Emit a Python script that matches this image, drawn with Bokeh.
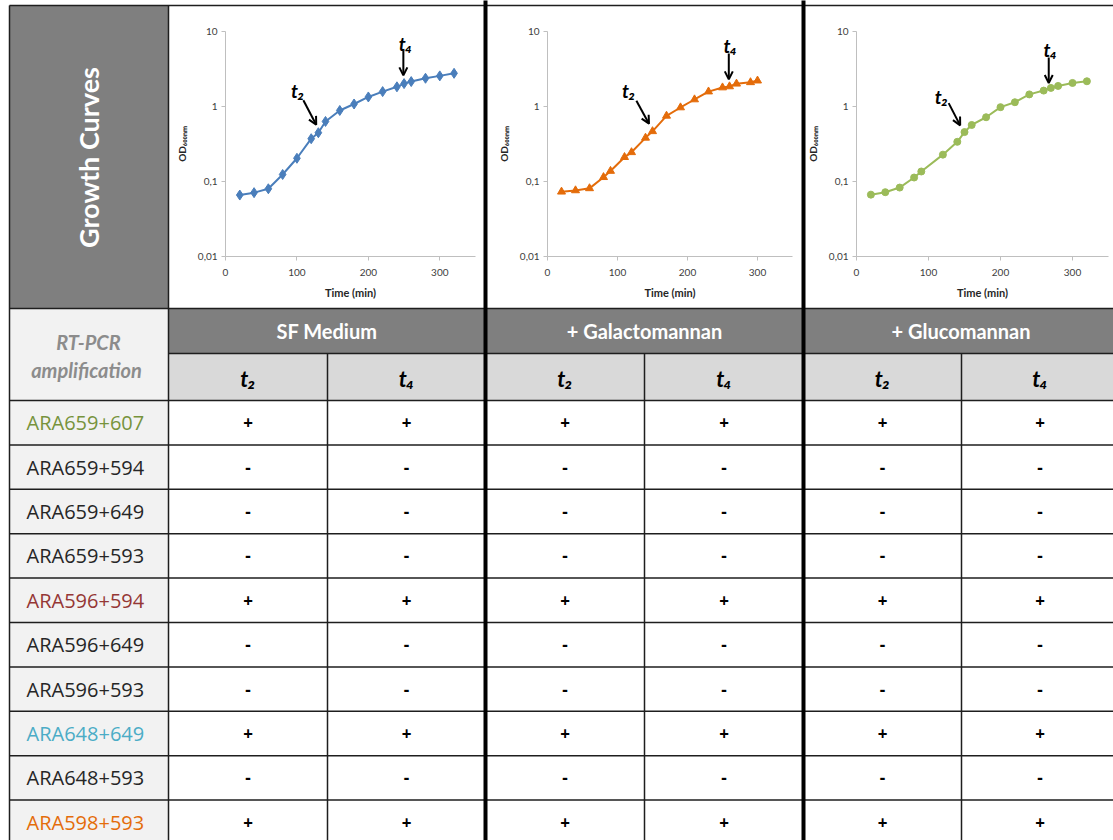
import math
from bokeh.plotting import figure
from bokeh.layouts import row
from bokeh.models import (Range1d, FixedTicker, CustomJSTickFormatter, Arrow,
                          OpenHead, Label, LinearScale)
from bokeh.core.properties import value
from bokeh.embed import file_html
from bokeh.resources import INLINE

# ---------------- data ----------------
time_sf = [20, 40, 60, 80, 100, 120, 130, 140, 160, 180, 200, 220, 240, 250, 260, 280, 300, 320]
od_sf = [0.066, 0.071, 0.080, 0.124, 0.204, 0.372, 0.447, 0.632, 0.885, 1.08, 1.34, 1.58,
         1.83, 2.02, 2.15, 2.38, 2.56, 2.77]

time_gal = [20, 40, 60, 80, 90, 110, 120, 140, 150, 170, 190, 210, 230, 250, 260, 270, 290, 300]
od_gal = [0.073, 0.076, 0.081, 0.114, 0.138, 0.211, 0.245, 0.382, 0.467, 0.751, 0.97, 1.24,
          1.58, 1.79, 1.85, 2.01, 2.10, 2.21]

time_glc = [20, 40, 60, 80, 90, 120, 140, 150, 160, 180, 200, 220, 240, 260, 270, 280, 300, 320]
od_glc = [0.0668, 0.072, 0.083, 0.113, 0.136, 0.228, 0.338, 0.456, 0.567, 0.719, 0.98, 1.14,
          1.45, 1.63, 1.77, 1.88, 2.06, 2.17]

x_ticks = [0, 100, 200, 300]
y_ticks = [0.01, 0.1, 1, 10]

conditions = ["SF Medium", "+ Galactomannan", "+ Glucomannan"]
time_points = ["t₂", "t₄"]
primer_pairs = ["ARA659+607", "ARA659+594", "ARA659+649", "ARA659+593", "ARA596+594",
                "ARA596+649", "ARA596+593", "ARA648+649", "ARA648+593", "ARA598+593"]
pair_colors = ["#77933c", "#262626", "#262626", "#262626", "#953735",
               "#262626", "#262626", "#4bacc6", "#262626", "#e46c0a"]
sf_t2 = ["+", "-", "-", "-", "+", "-", "-", "+", "-", "+"]
sf_t4 = ["+", "-", "-", "-", "+", "-", "-", "+", "-", "+"]
gal_t2 = ["+", "-", "-", "-", "+", "-", "-", "+", "-", "+"]
gal_t4 = ["+", "-", "-", "-", "+", "-", "-", "+", "-", "+"]
glc_t2 = ["+", "-", "-", "-", "+", "-", "-", "+", "-", "+"]
glc_t4 = ["+", "-", "-", "-", "+", "-", "-", "+", "-", "+"]
results = [[sf_t2, sf_t4], [gal_t2, gal_t4], [glc_t2, glc_t4]]

# ---------------- layout geometry (page pixels) ----------------
W, H = 1113, 840
col_x = [9, 168, 327, 485, 644, 803, 961, 1118]
top_line = 5
hdr_top, hdr_mid, hdr_bot = 308, 353, 400
row_h = 44.4
n_rows = len(primer_pairs)
row_edges = [hdr_bot + k * row_h for k in range(n_rows + 1)]
row_centers = [hdr_bot + (k + 0.5) * row_h for k in range(n_rows)]
FRAME_T, FRAME_B = 31, 256
LINE = "#1e1e1e"
DARK = "#7f7f7f"
PG = dict(x_range_name="page", y_range_name="page", level="overlay")


def draw_bg(p):
    L, A = col_x[0], col_x[1]
    R = W + 5
    bottom = H + 10
    p.quad(left=[L, L, L, A, A], right=[A, A, A, R, R],
           top=[top_line, hdr_top, hdr_bot, hdr_top, hdr_mid],
           bottom=[hdr_top, hdr_bot, bottom, hdr_mid, hdr_bot],
           fill_color=[DARK, "#f2f2f2", "#f2f2f2", DARK, "#d9d9d9"], line_color=None, **PG)
    hx0, hx1, hy = [], [], []
    for y in [top_line, hdr_top] + row_edges:
        hx0.append(L); hx1.append(R); hy.append(y)
    hx0.append(A); hx1.append(R); hy.append(hdr_mid)
    p.segment(x0=hx0, x1=hx1, y0=hy, y1=hy, line_color=LINE, line_width=1.5, **PG)
    vx = [L, A, col_x[2], col_x[4], col_x[6]]
    vy0 = [top_line, top_line, hdr_mid, hdr_mid, hdr_mid]
    p.segment(x0=vx, x1=vx, y0=vy0, y1=[bottom] * len(vx), line_color=LINE,
              line_width=1.5, **PG)
    tx = [col_x[3], col_x[5]]
    p.segment(x0=tx, x1=tx, y0=[0, 0], y1=[bottom, bottom], line_color="black",
              line_width=4, **PG)


def draw_table_texts(p, ci):
    a, b = col_x[1 + 2 * ci], col_x[3 + 2 * ci]
    m = col_x[2 + 2 * ci]
    p.text(x=[(a + b) / 2], y=[(hdr_top + hdr_mid) / 2], text=[conditions[ci]],
           text_color="white", text_font=value("Lato"), text_font_style="bold",
           text_font_size="20px", text_align="center", text_baseline="middle", **PG)
    sx = [(a + m) / 2, (m + b) / 2]
    p.text(x=sx, y=[(hdr_mid + hdr_bot) / 2 + 1] * 2, text=time_points,
           text_color="black", text_font=value("Lato"), text_font_style="bold italic",
           text_font_size="22px", text_align="center", text_baseline="middle", **PG)
    vx, vy, vt = [], [], []
    for j, res in enumerate(results[ci]):
        for k, r in enumerate(res):
            vx.append(sx[j]); vy.append(row_centers[k]); vt.append(r)
    p.text(x=vx, y=vy, text=vt, text_color="black", text_font=value("Open Sans"),
           text_font_style="bold", text_font_size="17px",
           text_align="center", text_baseline="middle", **PG)


def chart(x0, x1, fl, fr, t, od, color, marker, msize, ann):
    p = figure(width=x1 - x0, height=H,
               x_range=Range1d(0, 350), y_range=Range1d(0.01, 10), y_axis_type="log",
               toolbar_location=None, output_backend="svg",
               min_border_left=fl - x0, min_border_right=x1 - fr,
               min_border_top=FRAME_T, min_border_bottom=H - FRAME_B,
               outline_line_color=None)
    p.extra_x_ranges = {"page": Range1d(fl, fr)}
    p.extra_y_ranges = {"page": Range1d(FRAME_B, FRAME_T)}
    p.extra_x_scales = {"page": LinearScale()}
    p.extra_y_scales = {"page": LinearScale()}
    p.background_fill_color = "white"
    p.border_fill_color = "white"
    p.xgrid.visible = False
    p.ygrid.visible = False
    p.xaxis.ticker = FixedTicker(ticks=x_ticks)
    p.yaxis.ticker = FixedTicker(ticks=y_ticks)
    p.yaxis.formatter = CustomJSTickFormatter(code="return String(tick).replace('.', ',');")
    for ax in p.axis:
        ax.axis_line_color = "#bfbfbf"
        ax.major_tick_line_color = "#bfbfbf"
        ax.major_tick_out = 4
        ax.major_tick_in = 0
        ax.minor_tick_line_color = None
        ax.major_label_text_font_size = "10px"
        ax.major_label_text_color = "#404040"
        ax.major_label_text_font = "Lato"
        ax.axis_label_text_font = "Lato"
        ax.axis_label_text_font_style = "bold"
        ax.axis_label_text_color = "#262626"
    p.xaxis.major_label_standoff = 8
    p.yaxis.major_label_standoff = 4
    p.xaxis.axis_label = "Time (min)"
    p.xaxis.axis_label_text_font_size = "11px"
    p.xaxis.axis_label_standoff = 7
    p.yaxis.axis_label = "OD₆₀₀ₙₘ"
    p.yaxis.axis_label_text_font_size = "10px"
    p.yaxis.axis_label_standoff = 7
    p.line(t, od, line_color=color, line_width=2)
    p.scatter(t, od, marker=marker, size=msize, fill_color=color, line_color=color)
    (t2x, t2y), (a2x0, a2y0, a2x1, a2y1), (t4x, t4y), (a4x0, a4y0, a4x1, a4y1) = ann
    for (lx, ly, txt) in [(t2x, t2y, "t₂"), (t4x, t4y, "t₄")]:
        p.add_layout(Label(x=lx, y=ly, text=txt, text_font="Lato",
                           text_font_style="bold italic", text_font_size="19px",
                           text_align="center", text_baseline="middle", text_color="black"))
    for (sx, sy, ex, ey) in [(a2x0, a2y0, a2x1, a2y1), (a4x0, a4y0, a4x1, a4y1)]:
        p.add_layout(Arrow(end=OpenHead(size=8, line_width=2, line_color="black"),
                           x_start=sx, y_start=sy, x_end=ex, y_end=ey,
                           line_width=2, line_color="black"))
    draw_bg(p)
    return p


ann_sf = [(101, 1.65), (109, 1.21, 127, 0.57), (252, 6.9), (249, 5.6, 249, 2.6)]
ann_gal = [(116, 1.63), (127, 1.19, 145, 0.59), (261, 6.6), (259, 5.1, 259, 2.3)]
ann_glc = [(118, 1.38), (128, 1.11, 144, 0.56), (269, 5.7), (267, 4.5, 267, 2.06)]

c1 = chart(0, 485, 225, 475, time_sf, od_sf, "#4a7ebb", "diamond", 10, ann_sf)
c2 = chart(485, 803, 547, 792, time_gal, od_gal, "#e46c0a", "triangle", 8, ann_gal)
c3 = chart(803, W, 856, 1108, time_glc, od_glc, "#9bbb59", "circle", 7, ann_glc)

# left block texts (drawn on the first figure)
c1.text(x=[88], y=[157], text=["Growth Curves"], angle=math.pi / 2,
        text_color="white", text_font=value("Lato"), text_font_style="bold",
        text_font_size="27px", text_align="center", text_baseline="middle", **PG)
c1.text(x=[88, 86], y=[341, 369], text=["RT-PCR", "amplification"],
        text_color="#8c8c8c", text_font=value("Lato"), text_font_style="bold italic",
        text_font_size="20px", text_align="center", text_baseline="middle", **PG)
c1.text(x=[26] * n_rows, y=row_centers, text=primer_pairs, text_color=pair_colors,
        text_font=value("Open Sans"), text_font_size="20px",
        text_align="left", text_baseline="middle", **PG)

for ci, fig in enumerate([c1, c2, c3]):
    draw_table_texts(fig, ci)

layout = row(c1, c2, c3)
open("out.html", "w").write(file_html(layout, INLINE, title="Growth curves and RT-PCR"))
